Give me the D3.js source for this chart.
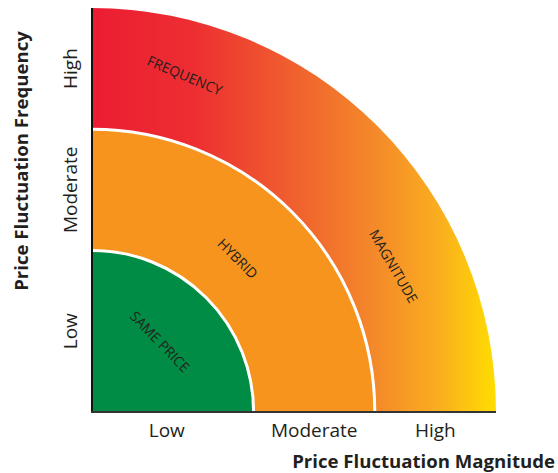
<!DOCTYPE html>
<html>
<head>
<meta charset="utf-8">
<script src="https://cdn.jsdelivr.net/npm/d3@7"></script>
<style>
  body { margin: 0; background: #fff; }
  text { font-family: "Open Sans", "Noto Sans", sans-serif; fill: #231f20; }
</style>
</head>
<body>
<script>
// levels on both axes
var categories = ["Low", "Moderate", "High"];
// band edges (same scale on both axes), 0..10
var bandEdges = [0, 4, 7, 10];
// bands drawn from outside in
var bandNames = ["MAGNITUDE", "HYBRID", "SAME PRICE"];
var bandOuter = [10, 7, 4];
// band labels: radius, angle (deg from x axis), rotation
var labelNames = ["FREQUENCY", "MAGNITUDE", "HYBRID", "SAME PRICE"];
var labelRadius = [8.65, 8.3, 5.25, 2.43];
var labelAngle = [74.6, 25.8, 46.5, 46];
var labelRotate = [23, 60, 45, 46];
var xTitle = "Price Fluctuation Magnitude";
var yTitle = "Price Fluctuation Frequency";

_main = () => {
  var W = 558, H = 473;
  var svg = d3.select("body").append("svg")
              .attr("width", W)
              .attr("height", H);

  var x = d3.scaleLinear().domain([0, 10]).range([92, 496]);
  var y = d3.scaleLinear().domain([0, 10]).range([412, 8]);
  var r = (v) => x(v) - x(0);

  // gradient for outer band (coords of the translated group)
  var grad = svg.append("defs").append("linearGradient")
                .attr("id", "outerGrad")
                .attr("gradientUnits", "userSpaceOnUse")
                .attr("x1", 0).attr("x2", r(10))
                .attr("y1", 0).attr("y2", 0);
  [[0, "#ec1c33"], [0.25, "#ed2e31"], [0.47, "#ef5a2e"], [0.7, "#f4892a"],
   [0.86, "#faae1f"], [1, "#ffdd00"]].forEach(s => {
    grad.append("stop").attr("offset", s[0]).attr("stop-color", s[1]);
  });
  var fills = ["url(#outerGrad)", "#f7941d", "#008c44"];

  var g = svg.append("g").attr("transform", "translate(" + x(0) + "," + y(0) + ")");

  var arc = d3.arc().innerRadius(0).startAngle(0).endAngle(Math.PI / 2);

  g.selectAll("path.band")
    .data(bandOuter)
    .enter()
      .append("path")
      .attr("class", "band")
      .attr("d", d => arc({outerRadius: r(d)}))
      .attr("fill", (d, i) => fills[i]);

  // white separators
  g.selectAll("path.sep")
    .data(bandOuter.slice(1))
    .enter()
      .append("path")
      .attr("class", "sep")
      .attr("d", d => {
        var p = d3.path();
        p.moveTo(0, -r(d));
        p.arc(0, 0, r(d), -Math.PI / 2, 0);
        return p.toString();
      })
      .attr("fill", "none")
      .attr("stroke", "#fff")
      .attr("stroke-width", 3);

  // band labels
  labelNames.forEach((t, i) => {
    var a = labelAngle[i] * Math.PI / 180;
    var px = r(labelRadius[i]) * Math.cos(a);
    var py = -r(labelRadius[i]) * Math.sin(a);
    g.append("text")
      .attr("transform", "translate(" + px + "," + py + ") rotate(" + labelRotate[i] + ")")
      .attr("text-anchor", "middle")
      .attr("dominant-baseline", "central")
      .attr("font-size", 14)
      .text(t);
  });

  // axes lines
  svg.append("line")
     .attr("x1", x(0)).attr("x2", x(0))
     .attr("y1", y(10)).attr("y2", y(0) + 1)
     .attr("stroke", "#111").attr("stroke-width", 2);
  svg.append("line")
     .attr("x1", x(0) - 1).attr("x2", x(10))
     .attr("y1", y(0)).attr("y2", y(0))
     .attr("stroke", "#333").attr("stroke-width", 2);

  // tick labels at band midpoints
  var mids = categories.map((c, i) => (bandEdges[i] + bandEdges[i + 1]) / 2);
  svg.selectAll("text.xt")
     .data(categories)
     .enter()
       .append("text")
       .attr("class", "xt")
       .attr("x", (d, i) => x(mids[i]) - (i == 0 ? 6 : 0))
       .attr("y", 437)
       .attr("text-anchor", "middle")
       .attr("font-size", 19)
       .text(d => d);
  svg.selectAll("text.yt")
     .data(categories)
     .enter()
       .append("text")
       .attr("class", "yt")
       .attr("transform", (d, i) => "translate(77," + y(mids[i]) + ") rotate(-90)")
       .attr("text-anchor", "middle")
       .attr("font-size", 19)
       .text(d => d);

  // axis titles
  svg.append("text")
     .attr("x", 555)
     .attr("y", 468)
     .attr("text-anchor", "end")
     .attr("font-size", 18.6)
     .attr("font-weight", "bold")
     .text(xTitle);
  svg.append("text")
     .attr("transform", "translate(28,161) rotate(-90)")
     .attr("text-anchor", "middle")
     .attr("font-size", 18.6)
     .attr("font-weight", "bold")
     .text(yTitle);
}

document.addEventListener("DOMContentLoaded", function () {
  _main();
});
</script>
</body>
</html>
